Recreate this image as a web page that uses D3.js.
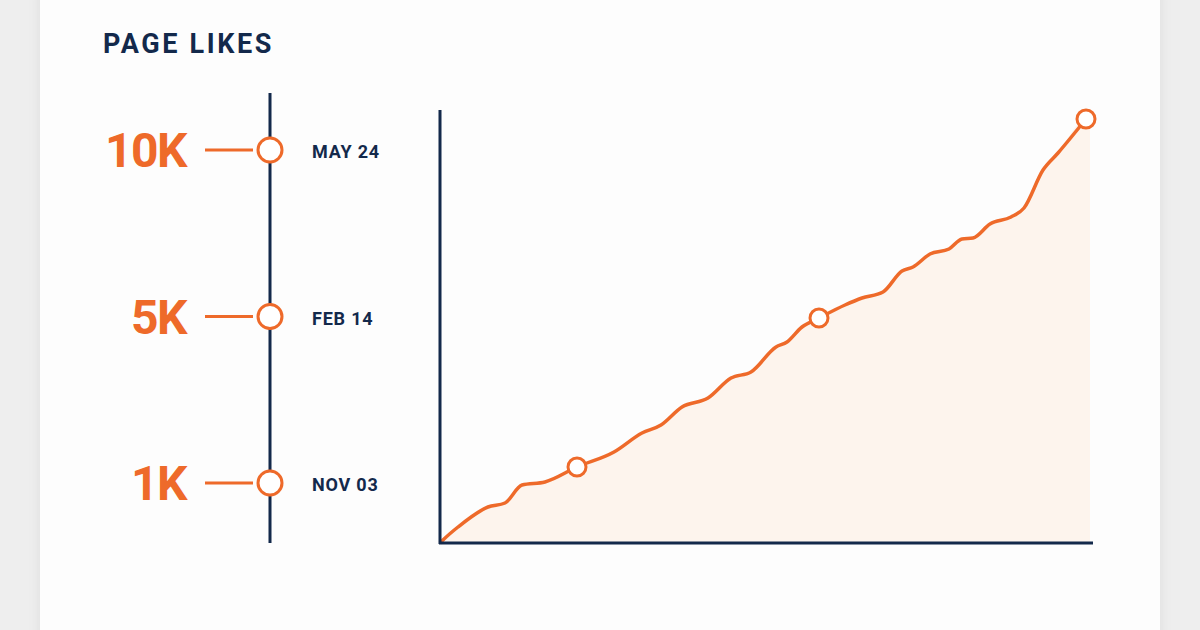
<!DOCTYPE html>
<html><head><meta charset="utf-8">
<script src="https://cdn.jsdelivr.net/npm/d3@7/dist/d3.min.js"></script>
<style>body{margin:0;background:#eeeeee;}svg{display:block}</style>
</head><body>
<svg id="c" width="1200" height="630"></svg>
<script>
const milestoneLabels = ["10K","5K","1K"];
const milestoneDates = ["MAY 24","FEB 14","NOV 03"];
const milestoneLevels = [0, 1, 2];
// growth curve: day index and cumulative index value
const days =   [0,3,18,48,65,82,105,137,174,202,221,242,268,291,311,336,347,362,379,405,422,443,462,473,490,509,522,533,550,571,584,603,618,646];
const values = [0,3,16,36,40,58,61,76,91,110,118,136,145,165,171,196,201,216,225,238,245,251,272,276,289,294,304,305,319,326,335,373,390,424];
const markerIdx = [7, 18, 33];

const svg = d3.select("#c");
const defs = svg.append("defs");
const f = defs.append("filter").attr("id","sh").attr("x","-10%").attr("width","120%");
f.append("feDropShadow").attr("dx",0).attr("dy",0).attr("stdDeviation",6).attr("flood-color","#000").attr("flood-opacity",0.08);
svg.append("rect").attr("x",40).attr("y",-10).attr("width",1120).attr("height",660).attr("fill","#fdfdfd").attr("filter","url(#sh)");

const navy="#13294b", orange="#ee6a2a";
svg.append("text").attr("x",103).attr("y",53).text("PAGE LIKES")
  .attr("font-family","Roboto, sans-serif").attr("font-weight",700).attr("font-size",27).attr("letter-spacing",2.6).attr("fill",navy);

// timeline
const ty = d3.scalePoint().domain(milestoneLevels).range([150,483]);
svg.append("line").attr("x1",270).attr("x2",270).attr("y1",93).attr("y2",543).attr("stroke",navy).attr("stroke-width",3);
milestoneLevels.forEach((m,i)=>{
  const y=ty(m);
  svg.append("line").attr("x1",205).attr("x2",253).attr("y1",y).attr("y2",y).attr("stroke",orange).attr("stroke-width",3);
  svg.append("circle").attr("cx",270).attr("cy",y).attr("r",12).attr("fill","#fff").attr("stroke",orange).attr("stroke-width",3);
  svg.append("text").attr("x",186).attr("y",y+17).attr("text-anchor","end").text(milestoneLabels[i])
    .attr("font-family","Roboto, sans-serif").attr("font-weight",700).attr("font-size",48).attr("letter-spacing",-1.5).attr("fill",orange);
  svg.append("text").attr("x",312).attr("y",y+8).text(milestoneDates[i])
    .attr("font-family","Roboto, sans-serif").attr("font-weight",700).attr("font-size",18).attr("letter-spacing",0.8).attr("fill",navy);
});

// chart
const x = d3.scaleLinear().domain([0,650]).range([440,1090]);
const y = d3.scaleLinear().domain([0,425]).range([543,118]);
const data = days.map((d,i)=>({d, v:values[i]}));
const areaData = data.concat([{d:650, v:values[values.length-1]}]);
svg.append("path").datum(areaData).attr("fill","#fdf4ed")
  .attr("d", d3.area().x(p=>x(p.d)).y0(y(0)).y1(p=>y(p.v)).curve(d3.curveMonotoneX));
svg.append("path").datum(data).attr("fill","none").attr("stroke",orange).attr("stroke-width",3.5).attr("stroke-linejoin","round")
  .attr("d", d3.line().x(p=>x(p.d)).y(p=>y(p.v)).curve(d3.curveMonotoneX));
svg.append("line").attr("x1",440).attr("x2",440).attr("y1",110).attr("y2",544).attr("stroke",navy).attr("stroke-width",3);
svg.append("line").attr("x1",439).attr("x2",1093).attr("y1",543).attr("y2",543).attr("stroke",navy).attr("stroke-width",3);
markerIdx.forEach(i=>{
  svg.append("circle").attr("cx",x(days[i])).attr("cy",y(values[i])).attr("r",9).attr("fill","#fff").attr("stroke",orange).attr("stroke-width",3);
});
</script>
</body></html>
